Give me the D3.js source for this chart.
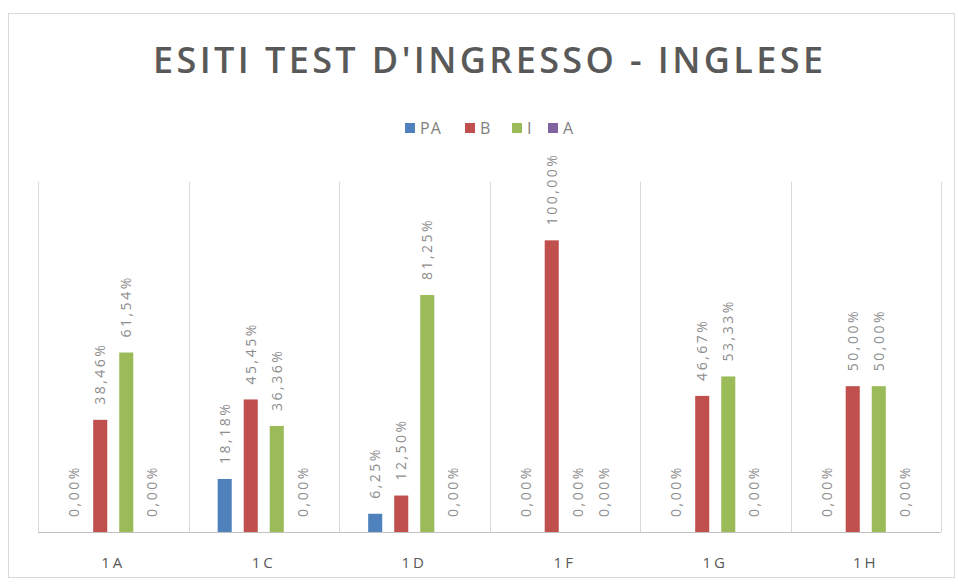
<!DOCTYPE html>
<html>
<head>
<meta charset="utf-8">
<script src="https://cdn.jsdelivr.net/npm/d3@7"></script>
<style>
  body { margin: 0; background: #fff; }
  svg { display: block; font-family: "Open Sans", sans-serif; }
</style>
</head>
<body>
<div id="chart"></div>
<script>
var categories = ["1A", "1C", "1D", "1F", "1G", "1H"];
var seriesNames = ["PA", "B", "I", "A"];
var seriesColors = ["#4f81bd", "#c0504d", "#9bbb59", "#8064a2"];
var valuesPA = [0, 0.1818, 0.0625, 0, 0, 0];
var valuesB = [0.3846, 0.4545, 0.125, 1, 0.4667, 0.5];
var valuesI = [0.6154, 0.3636, 0.8125, 0, 0.5333, 0.5];
var valuesA = [0, 0, 0, 0, 0, 0];
var allValues = [valuesPA, valuesB, valuesI, valuesA];

var width = 958, height = 584;

var svg = d3.select("#chart").append("svg")
  .attr("width", width)
  .attr("height", height);

// chart frame
svg.append("rect")
  .attr("x", 8.5).attr("y", 13.5)
  .attr("width", 946).attr("height", 564)
  .attr("fill", "#fff")
  .attr("stroke", "#d9d9d9");

var x0 = d3.scaleBand().domain(categories).range([38, 941]);
var x1 = d3.scaleBand().domain(seriesNames)
  .range([0, x0.bandwidth()])
  .paddingInner(0.46)
  .paddingOuter(1.12);
var y = d3.scaleLinear().domain([0, 1.2]).range([532, 182]);

// vertical gridlines between categories
var bounds = categories.map(function (c) { return x0(c); }).concat([x0.range()[1]]);
svg.append("g").selectAll("line")
  .data(bounds)
  .enter().append("line")
  .attr("x1", function (d) { return Math.round(d) + 0.5; })
  .attr("x2", function (d) { return Math.round(d) + 0.5; })
  .attr("y1", y(1.2))
  .attr("y2", y(0))
  .attr("stroke", "#d9d9d9");

// title
svg.append("text")
  .attr("x", 488).attr("y", 73)
  .attr("text-anchor", "middle")
  .attr("font-size", 36)
  .attr("font-weight", 600)
  .attr("fill", "#595959")
  .attr("textLength", 670)
  .attr("lengthAdjust", "spacing")
  .text("ESITI TEST D'INGRESSO - INGLESE");

// legend
var legendX = [405, 465, 512, 548];
var legend = svg.append("g").selectAll("g")
  .data(seriesNames)
  .enter().append("g")
  .attr("transform", function (d, i) { return "translate(" + legendX[i] + ",123)"; });
legend.append("rect")
  .attr("width", 10).attr("height", 10)
  .attr("fill", function (d, i) { return seriesColors[i]; });
legend.append("text")
  .attr("x", 15).attr("y", 11)
  .attr("font-size", 16)
  .attr("letter-spacing", 1)
  .attr("fill", "#7f7f7f")
  .text(function (d) { return d; });

// bars
var groups = svg.append("g").selectAll("g")
  .data(categories)
  .enter().append("g")
  .attr("transform", function (c) { return "translate(" + x0(c) + ",0)"; });

var cells = groups.selectAll("g")
  .data(function (c, ci) {
    return seriesNames.map(function (s, si) {
      return { series: s, idx: si, value: allValues[si][ci] };
    });
  })
  .enter().append("g");

cells.append("rect")
  .attr("x", function (d) { return x1(d.series); })
  .attr("y", function (d) { return y(d.value); })
  .attr("width", x1.bandwidth())
  .attr("height", function (d) { return y(0) - y(d.value); })
  .attr("fill", function (d) { return seriesColors[d.idx]; });

var fmt = function (v) { return (v * 100).toFixed(2).replace(".", ",") + "%"; };

cells.append("text")
  .attr("transform", function (d) {
    var cx = x1(d.series) + x1.bandwidth() / 2;
    return "translate(" + cx + "," + (y(d.value) - 15) + ") rotate(-90)";
  })
  .attr("dy", "0.35em")
  .attr("font-size", 14)
  .attr("letter-spacing", 2.5)
  .attr("fill", "#8c8c8c")
  .text(function (d) { return fmt(d.value); });

// baseline
svg.append("line")
  .attr("x1", x0.range()[0]).attr("x2", x0.range()[1])
  .attr("y1", y(0) + 0.5).attr("y2", y(0) + 0.5)
  .attr("stroke", "#bfbfbf");

// category labels
svg.append("g").selectAll("text")
  .data(categories)
  .enter().append("text")
  .attr("x", function (c) { return x0(c) + x0.bandwidth() / 2; })
  .attr("y", 568)
  .attr("text-anchor", "middle")
  .attr("font-size", 15)
  .attr("letter-spacing", 3)
  .attr("fill", "#595959")
  .text(function (c) { return c; });
</script>
</body>
</html>
